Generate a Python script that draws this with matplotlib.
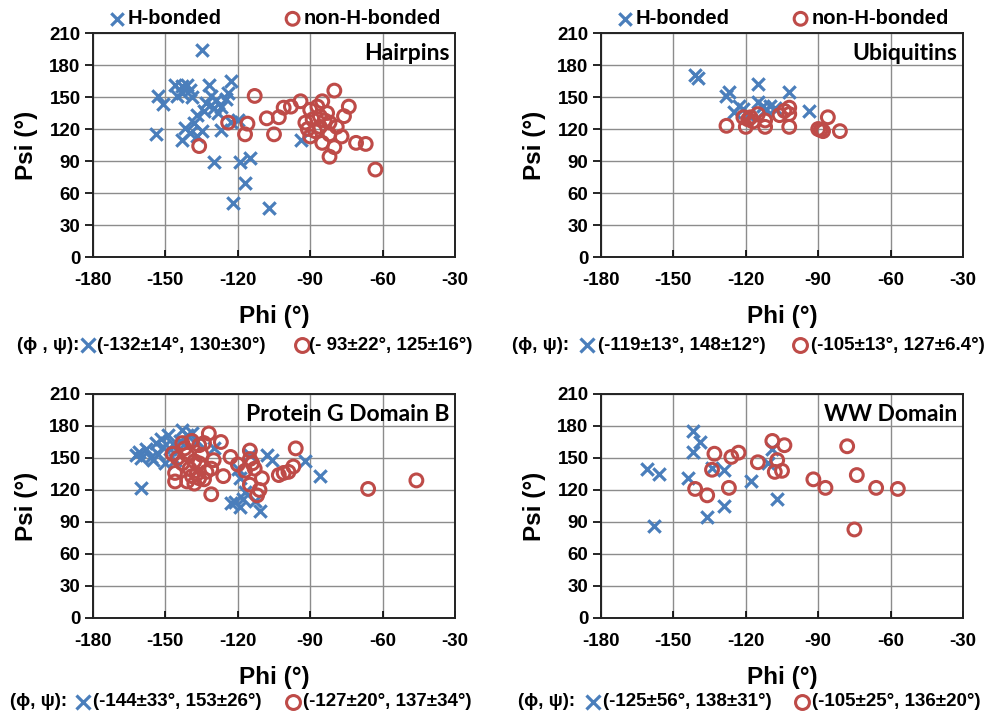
import matplotlib.pyplot as plt
from matplotlib.lines import Line2D

# Màu và font
blue = '#4a7ebb'
red = '#be4b48'
plt.rcParams['font.family'] = ['Liberation Sans', 'DejaVu Sans']
plt.rcParams['font.weight'] = 'bold'
plt.rcParams['axes.unicode_minus'] = False

# Hairpins
hairpin_h_phi = [-135, -153, -151, -154, -146, -143, -141, -145, -143, -140, -132, -131, -129,
                 -127, -123, -124, -125, -137, -134, -142, -140, -143, -137, -135, -138, -127,
                 -123, -94, -130, -119, -115, -117, -122, -107, -130, -133, -128, -120, -139]
hairpin_h_psi = [194, 151, 143, 115, 161, 160, 161, 151, 154, 157, 161, 151, 147,
                 141, 165, 154, 148, 133, 137, 121, 116, 110, 113, 118, 126, 119,
                 127, 110, 89, 89, 93, 69, 51, 46, 140, 144, 135, 128, 150]
hairpin_n_phi = [-136, -124, -113, -116, -117, -108, -105, -103, -101, -98, -94, -90, -92,
                 -89, -87, -85, -80, -83, -86, -82, -79, -74, -76, -77, -82, -85, -80, -82,
                 -90, -91, -71, -67, -63, -88, -84, -86]
hairpin_n_psi = [104, 126, 151, 125, 115, 130, 115, 131, 140, 141, 146, 138, 126,
                 129, 141, 146, 156, 135, 122, 126, 122, 141, 132, 113, 115, 107, 103, 94,
                 113, 120, 107, 106, 82, 118, 128, 132]

# Ubiquitins
ubq_h_phi = [-141, -140, -127, -128, -125, -123, -121, -115, -115, -113, -110, -112, -102, -94, -119, -108]
ubq_h_psi = [171, 168, 155, 151, 136, 142, 139, 162, 145, 142, 142, 138, 155, 137, 133, 140]
ubq_n_phi = [-128, -120, -121, -119, -117, -115, -112, -112, -106, -104, -102, -102, -102,
             -90, -88, -86, -81, -89, -118]
ubq_n_psi = [123, 122, 131, 129, 127, 134, 128, 122, 133, 137, 140, 134, 122,
             120, 118, 131, 118, 119, 131]

# Protein G Domain B
gb1_h_phi = [-160, -162, -161, -158, -154, -152, -149, -156, -153, -150, -148, -151, -155,
             -143, -141, -139, -137, -144, -130, -123, -121, -118, -119, -111, -115, -108,
             -106, -92, -86, -119, -120, -117, -113, -146, -160, -147, -145]
gb1_h_psi = [122, 153, 156, 158, 164, 168, 172, 151, 154, 145, 158, 160, 148,
             176, 172, 173, 166, 166, 159, 108, 109, 112, 104, 100, 153, 153,
             148, 147, 133, 131, 140, 118, 110, 148, 150, 163, 157]
gb1_n_phi = [-132, -127, -143, -139, -136, -134, -147, -146, -146, -141, -138, -136, -133,
             -131, -138, -141, -135, -136, -140, -143, -137, -134, -139, -131, -126, -123,
             -120, -115, -115, -114, -113, -115, -112, -110, -103, -101, -99, -97, -96,
             -66, -46, -130, -142, -117, -111, -145]
gb1_n_psi = [173, 165, 164, 166, 162, 164, 154, 136, 128, 128, 126, 131, 137,
             140, 147, 153, 153, 145, 140, 145, 135, 130, 133, 116, 133, 151,
             144, 157, 149, 145, 140, 125, 115, 131, 134, 136, 137, 142, 159,
             121, 129, 148, 159, 138, 120, 150]

# WW Domain
ww_h_phi = [-161, -156, -158, -142, -139, -142, -144, -134, -136, -129, -129, -118, -109, -107, -111]
ww_h_psi = [140, 135, 86, 175, 165, 156, 131, 141, 95, 105, 139, 128, 158, 112, 145]
ww_n_phi = [-133, -134, -141, -136, -127, -126, -123, -115, -109, -104, -107, -108, -105,
            -92, -87, -78, -74, -75, -66, -57]
ww_n_psi = [154, 139, 121, 115, 122, 151, 155, 146, 166, 162, 148, 137, 138,
            130, 122, 161, 134, 83, 122, 121]

titles = ['Hairpins', 'Ubiquitins', 'Protein G Domain B', 'WW Domain']
h_stats = ['(-132±14°, 130±30°)', '(-119±13°, 148±12°)', '(-144±33°, 153±26°)', '(-125±56°, 138±31°)']
n_stats = ['(- 93±22°, 125±16°)', '(-105±13°, 127±6.4°)', '(-127±20°, 137±34°)', '(-105±25°, 136±20°)']
phi_psi_labels = ['(ϕ , ψ):', '(ϕ, ψ):', '(ϕ, ψ):', '(ϕ, ψ):']

panels = [(hairpin_h_phi, hairpin_h_psi, hairpin_n_phi, hairpin_n_psi),
          (ubq_h_phi, ubq_h_psi, ubq_n_phi, ubq_n_psi),
          (gb1_h_phi, gb1_h_psi, gb1_n_phi, gb1_n_psi),
          (ww_h_phi, ww_h_psi, ww_n_phi, ww_n_psi)]

W, H = 988, 716
fig = plt.figure(figsize=(W / 100, H / 100), dpi=100)

# vị trí các ô (pixel): trái, trên
lefts = [93, 601, 93, 601]
tops = [33, 33, 394, 394]
ax_w, ax_h = 362, 224

# vị trí dòng chú thích (ϕ, ψ) bên dưới
ann_y = [345, 345, 702, 702]
ann_x = [(17, 88, 97, 302, 309), (512, 587, 598, 800, 811),
         (10, 83, 93, 293, 303), (518, 593, 603, 802, 812)]

for i, (hp, hs, npx, ns) in enumerate(panels):
    ax = fig.add_axes([lefts[i] / W, 1 - (tops[i] + ax_h) / H, ax_w / W, ax_h / H])
    ax.scatter(hp, hs, marker='x', s=80, linewidths=2.3, color=blue, label='H-bonded', zorder=3)
    ax.scatter(npx, ns, marker='o', s=85, facecolors='none', edgecolors=red, linewidths=2.2,
               label='non-H-bonded', zorder=3)
    ax.set_xlim(-180, -30)
    ax.set_ylim(0, 210)
    ax.set_xticks(range(-180, -29, 30))
    ax.set_yticks(range(0, 211, 30))
    ax.grid(True, color='#8c8c8c', linewidth=1)
    ax.set_axisbelow(True)
    for sp in ax.spines.values():
        sp.set_color('#222222')
        sp.set_linewidth(1.4)
    ax.tick_params(axis='y', direction='out', length=6, width=1.2, labelsize=13.5, pad=3)
    ax.tick_params(axis='x', direction='in', length=5, width=1.2, labelsize=13.5, pad=11)
    ax.set_xlabel('Phi (°)', fontsize=17.5, fontweight='bold', labelpad=11)
    ax.set_ylabel('Psi (°)', fontsize=17.5, fontweight='bold', labelpad=8)
    ax.text(0.985, 0.955, titles[i], transform=ax.transAxes, ha='right', va='top',
            fontsize=16.5, fontweight='bold', family=['Lato', 'DejaVu Sans'])

    if i < 2:
        ax.legend(loc='lower center', bbox_to_anchor=(0.5, 0.995), ncol=2, frameon=False,
                  handletextpad=0.05, columnspacing=3.0, borderaxespad=0.1, fontsize=14.5,
                  handlelength=1.0, borderpad=0.2)

    # dòng (ϕ, ψ) với ký hiệu
    y = 1 - ann_y[i] / H
    x0, xm1, xt1, xm2, xt2 = ann_x[i]
    fig.text(x0 / W, y, phi_psi_labels[i], fontsize=13.5, va='center', ha='left')
    fig.add_artist(Line2D([xm1 / W], [y], transform=fig.transFigure, marker='x', markersize=10,
                          markeredgewidth=2.3, color=blue, linestyle='none'))
    fig.text(xt1 / W, y, h_stats[i], fontsize=13.5, va='center', ha='left')
    fig.add_artist(Line2D([xm2 / W], [y], transform=fig.transFigure, marker='o', markersize=10,
                          markeredgewidth=2.2, markerfacecolor='none', markeredgecolor=red,
                          linestyle='none'))
    fig.text(xt2 / W, y, n_stats[i], fontsize=13.5, va='center', ha='left')

plt.savefig('out.png', dpi=100)
